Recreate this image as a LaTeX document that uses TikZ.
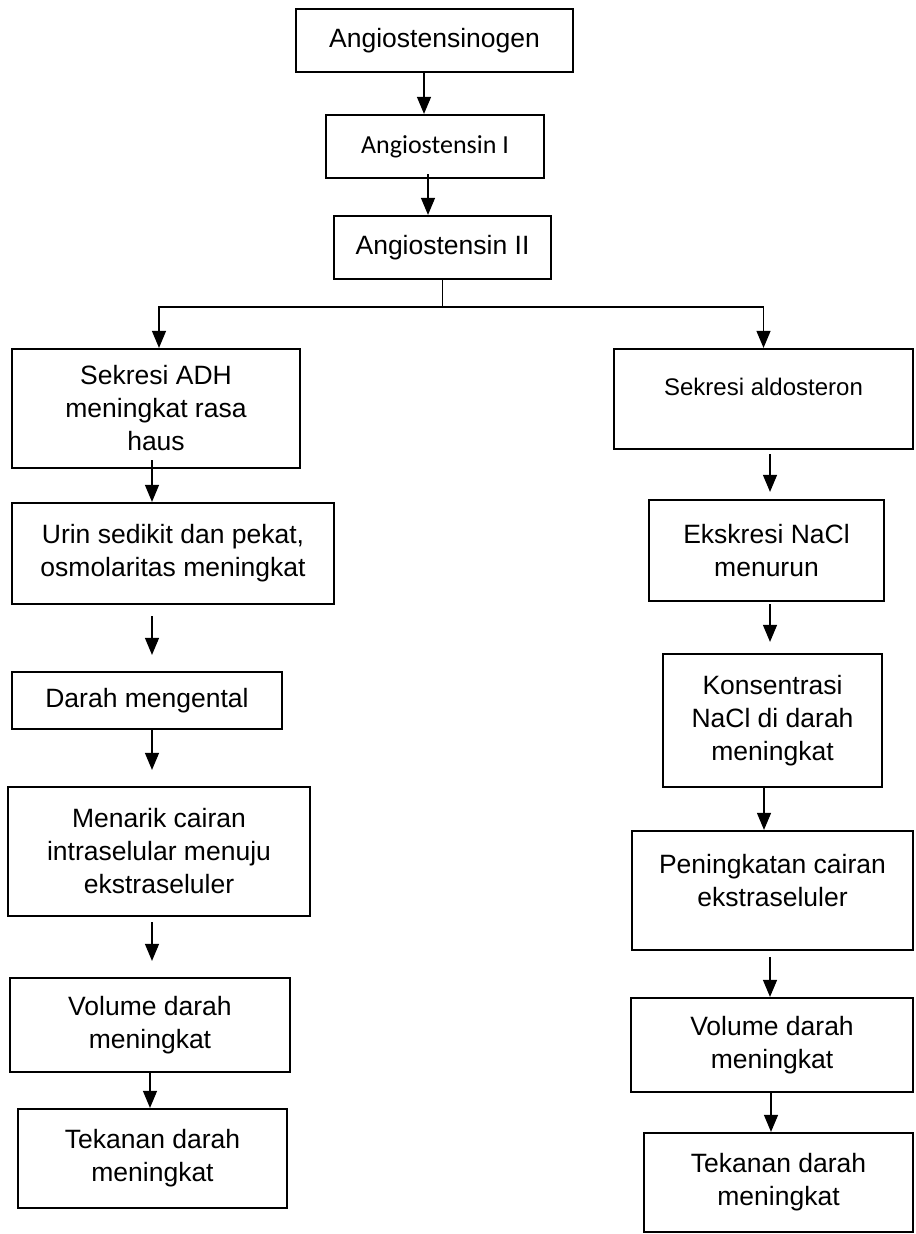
\documentclass[tikz,border=0pt]{standalone}
\usepackage{fontspec}
\setmainfont{Liberation Sans}
\newfontfamily\calfont{Carlito}
\usepackage{tikz}
\usetikzlibrary{arrows.meta, calc}
\tikzset{
  box/.style={rectangle, draw=black, line width=1.1pt, align=center,
    inner sep=0pt, font=\fontsize{13.25}{16.5}\selectfont},
  arrow/.style={-{Triangle[width=7pt,length=8.5pt]}, line width=0.6pt, color=black},
  line/.style={line width=0.6pt, color=black}
}

\begin{document}
\begin{tikzpicture}[x=0.5pt, y=-0.5pt]
  \useasboundingbox (0,0) rectangle (915,1234);

  % Upper chain
  \node[box, minimum width=138.5pt, minimum height=31.5pt] (agen) at (434.5,40.5) {Angiostensinogen};
  \node[box, minimum width=109pt, minimum height=31.5pt, font=\calfont\fontsize{13}{16}\selectfont] (ang1) at (435,146.5) {Angiostensin I};
  \node[box, minimum width=108.5pt, minimum height=31.5pt] (ang2) at (442.5,247.5) {Angiostensin II};

  \draw[arrow] ([xshift=-5.25pt]agen.south) -- ([xshift=-5.5pt]ang1.north);
  \draw[arrow] ([xshift=-3.5pt,yshift=2.5pt]ang1.south) -- ([xshift=-3.5pt]ang1.south |- ang2.north);

  % Left branch
  \node[box, minimum width=144pt, minimum height=59.5pt] (adh) at (156,408.5) {Sekresi ADH\\meningkat rasa\\haus};
  \node[box, minimum width=161pt, minimum height=50.5pt] (urin) at (173,553.5) {Urin sedikit dan pekat,\\osmolaritas meningkat};
  \node[box, minimum width=135pt, minimum height=28.5pt] (kental) at (147,700.5) {Darah mengental};
  \node[box, minimum width=151pt, minimum height=64.5pt] (tarik) at (159,851.5) {Menarik cairan\\intraselular menuju\\ekstraseluler};
  \node[box, minimum width=140pt, minimum height=47pt] (volL) at (150,1025) {Volume darah\\meningkat};
  \node[box, minimum width=134.5pt, minimum height=49.5pt] (tekL) at (152.5,1158.5) {Tekanan darah\\meningkat};

  % Right branch
  \node[box, minimum width=149.5pt, minimum height=50pt, font=\fontsize{12}{15}\selectfont] (aldo) at (763.5,399) {Sekresi aldosteron\\[-3pt]\mbox{}};
  \node[box, minimum width=117.5pt, minimum height=50.5pt] (nacl) at (766.5,550.5) {Ekskresi NaCl\\menurun};
  \node[box, minimum width=109.5pt, minimum height=66.5pt] (kons) at (772.5,720.5) {Konsentrasi\\NaCl di darah\\meningkat};
  \node[box, minimum width=140.5pt, minimum height=59.5pt] (ekstra) at (772.5,890.5) {Peningkatan cairan\\ekstraseluler\\[-6pt]\mbox{}};
  \node[box, minimum width=141pt, minimum height=47pt] (volR) at (772,1045) {Volume darah\\meningkat};
  \node[box, minimum width=134.5pt, minimum height=49.5pt] (tekR) at (778.5,1182.5) {Tekanan darah\\meningkat};

  % Split
  \coordinate (lcol) at (152,0);
  \coordinate (rcol) at (770,0);
  \coordinate (bus) at ($(ang2.south)+(0,27)$);
  \draw[line] (ang2.south) -- (bus);
  \draw[arrow] (bus) -| ([xshift=1.5pt]adh.north);
  \draw[arrow] (bus) -| (aldo.north);

  % Left arrows
  \draw[arrow] ([yshift=4.5pt]adh.south -| lcol) -- (urin.north -| lcol);
  \draw[arrow] ([yshift=-5.5pt]urin.south -| lcol) -- ([yshift=8pt]kental.north -| lcol);
  \draw[arrow] (kental.south -| lcol) -- ([yshift=8pt]tarik.north -| lcol);
  \draw[arrow] ([yshift=-2.5pt]tarik.south -| lcol) -- ([yshift=8pt]volL.north -| lcol);
  \draw[arrow] ([xshift=-1pt]volL.south -| lcol) -- ([xshift=-1pt]tekL.north -| lcol);

  % Right arrows
  \draw[arrow] ([yshift=-2pt]aldo.south -| rcol) -- ([yshift=3.5pt]nacl.north -| rcol);
  \draw[arrow] ([yshift=-1pt]nacl.south -| rcol) -- ([yshift=5.5pt]kons.north -| rcol);
  \draw[arrow] ([xshift=-3pt]kons.south -| rcol) -- ([xshift=-3pt]ekstra.north -| rcol);
  \draw[arrow] ([yshift=-3pt]ekstra.south -| rcol) -- (volR.north -| rcol);
  \draw[arrow] ([xshift=0.5pt]volR.south -| rcol) -- ([xshift=0.5pt]tekR.north -| rcol);
\end{tikzpicture}
\end{document}
